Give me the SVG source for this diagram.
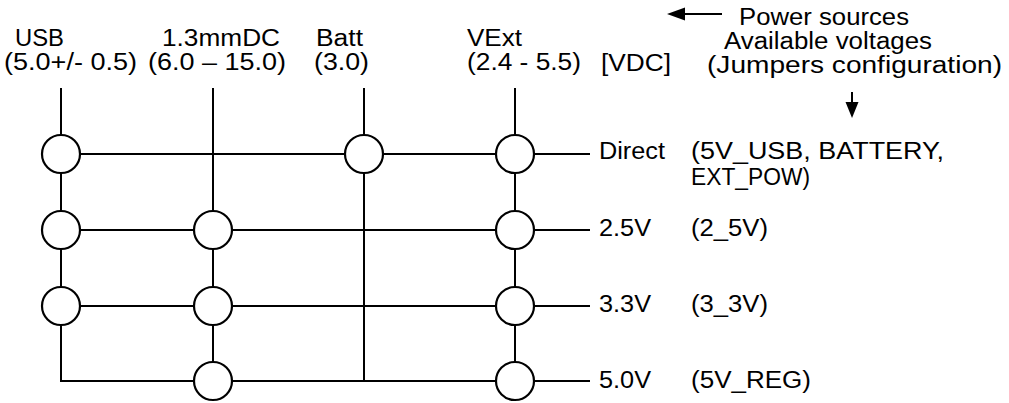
<svg xmlns="http://www.w3.org/2000/svg" width="1009" height="403" viewBox="0 0 1009 403">
<style>
.t{font-family:"Liberation Sans",Arial,sans-serif;font-size:23px;fill:#000}
.ln{stroke:#000;stroke-width:2;fill:none}
.j{stroke:#000;stroke-width:2.2;fill:#fff}
</style>
<g id="connectors">
<path class="ln" d="M61,88 V381 H590"/>
<path class="ln" d="M213,88 V381"/>
<path class="ln" d="M364,88 V381"/>
<path class="ln" d="M515,88 V381"/>
<path class="ln" d="M61,154 H590"/>
<path class="ln" d="M61,230 H590"/>
<path class="ln" d="M61,306 H590"/>
</g>
<g id="arrows">
<line class="ln" x1="722" y1="14" x2="684" y2="14"/>
<path d="M667,14 L685,7.5 L685,20.5 Z" fill="#000"/>
<line class="ln" x1="852" y1="92" x2="852" y2="104"/>
<path d="M852,118 L845.5,102 L858.5,102 Z" fill="#000"/>
</g>
<g id="j-usb-direct"><circle class="j" cx="61" cy="154" r="19"/></g>
<g id="j-batt-direct"><circle class="j" cx="364" cy="154" r="19"/></g>
<g id="j-vext-direct"><circle class="j" cx="515" cy="154" r="19"/></g>
<g id="j-usb-25"><circle class="j" cx="61" cy="230" r="19"/></g>
<g id="j-dc-25"><circle class="j" cx="213" cy="230" r="19"/></g>
<g id="j-vext-25"><circle class="j" cx="515" cy="230" r="19"/></g>
<g id="j-usb-33"><circle class="j" cx="61" cy="306" r="19"/></g>
<g id="j-dc-33"><circle class="j" cx="213" cy="306" r="19"/></g>
<g id="j-vext-33"><circle class="j" cx="515" cy="306" r="19"/></g>
<g id="j-dc-50"><circle class="j" cx="213" cy="381" r="19"/></g>
<g id="j-vext-50"><circle class="j" cx="515" cy="381" r="19"/></g>
<g id="src-usb"><text class="t" x="15" y="46" textLength="49" lengthAdjust="spacingAndGlyphs">USB</text><text class="t" x="4" y="70" textLength="133" lengthAdjust="spacingAndGlyphs">(5.0+/- 0.5)</text></g>
<g id="src-dc"><text class="t" x="162" y="46" textLength="118" lengthAdjust="spacingAndGlyphs">1.3mmDC</text><text class="t" x="148" y="70" textLength="138" lengthAdjust="spacingAndGlyphs">(6.0 – 15.0)</text></g>
<g id="src-batt"><text class="t" x="316" y="46" textLength="47" lengthAdjust="spacingAndGlyphs">Batt</text><text class="t" x="314" y="70" textLength="55" lengthAdjust="spacingAndGlyphs">(3.0)</text></g>
<g id="src-vext"><text class="t" x="467" y="46" textLength="55" lengthAdjust="spacingAndGlyphs">VExt</text><text class="t" x="467" y="70" textLength="114" lengthAdjust="spacingAndGlyphs">(2.4 - 5.5)</text></g>
<g id="unit"><text class="t" x="601" y="71" textLength="70" lengthAdjust="spacingAndGlyphs">[VDC]</text></g>
<g id="legend">
<text class="t" x="739" y="25" textLength="170" lengthAdjust="spacingAndGlyphs">Power sources</text>
<text class="t" x="724" y="49" textLength="208" lengthAdjust="spacingAndGlyphs">Available voltages</text>
<text class="t" x="707" y="73" textLength="295" lengthAdjust="spacingAndGlyphs">(Jumpers configuration)</text>
</g>
<g id="out-direct"><text class="t" x="599" y="159" textLength="66" lengthAdjust="spacingAndGlyphs">Direct</text><text class="t" x="691" y="159" textLength="253" lengthAdjust="spacingAndGlyphs">(5V_USB, BATTERY,</text><text class="t" x="691" y="185" textLength="119" lengthAdjust="spacingAndGlyphs">EXT_POW)</text></g>
<g id="out-25"><text class="t" x="599" y="236" textLength="52" lengthAdjust="spacingAndGlyphs">2.5V</text><text class="t" x="691" y="236" textLength="77" lengthAdjust="spacingAndGlyphs">(2_5V)</text></g>
<g id="out-33"><text class="t" x="599" y="312" textLength="52" lengthAdjust="spacingAndGlyphs">3.3V</text><text class="t" x="691" y="312" textLength="77" lengthAdjust="spacingAndGlyphs">(3_3V)</text></g>
<g id="out-50"><text class="t" x="599" y="388" textLength="52" lengthAdjust="spacingAndGlyphs">5.0V</text><text class="t" x="691" y="388" textLength="120" lengthAdjust="spacingAndGlyphs">(5V_REG)</text></g>
</svg>
